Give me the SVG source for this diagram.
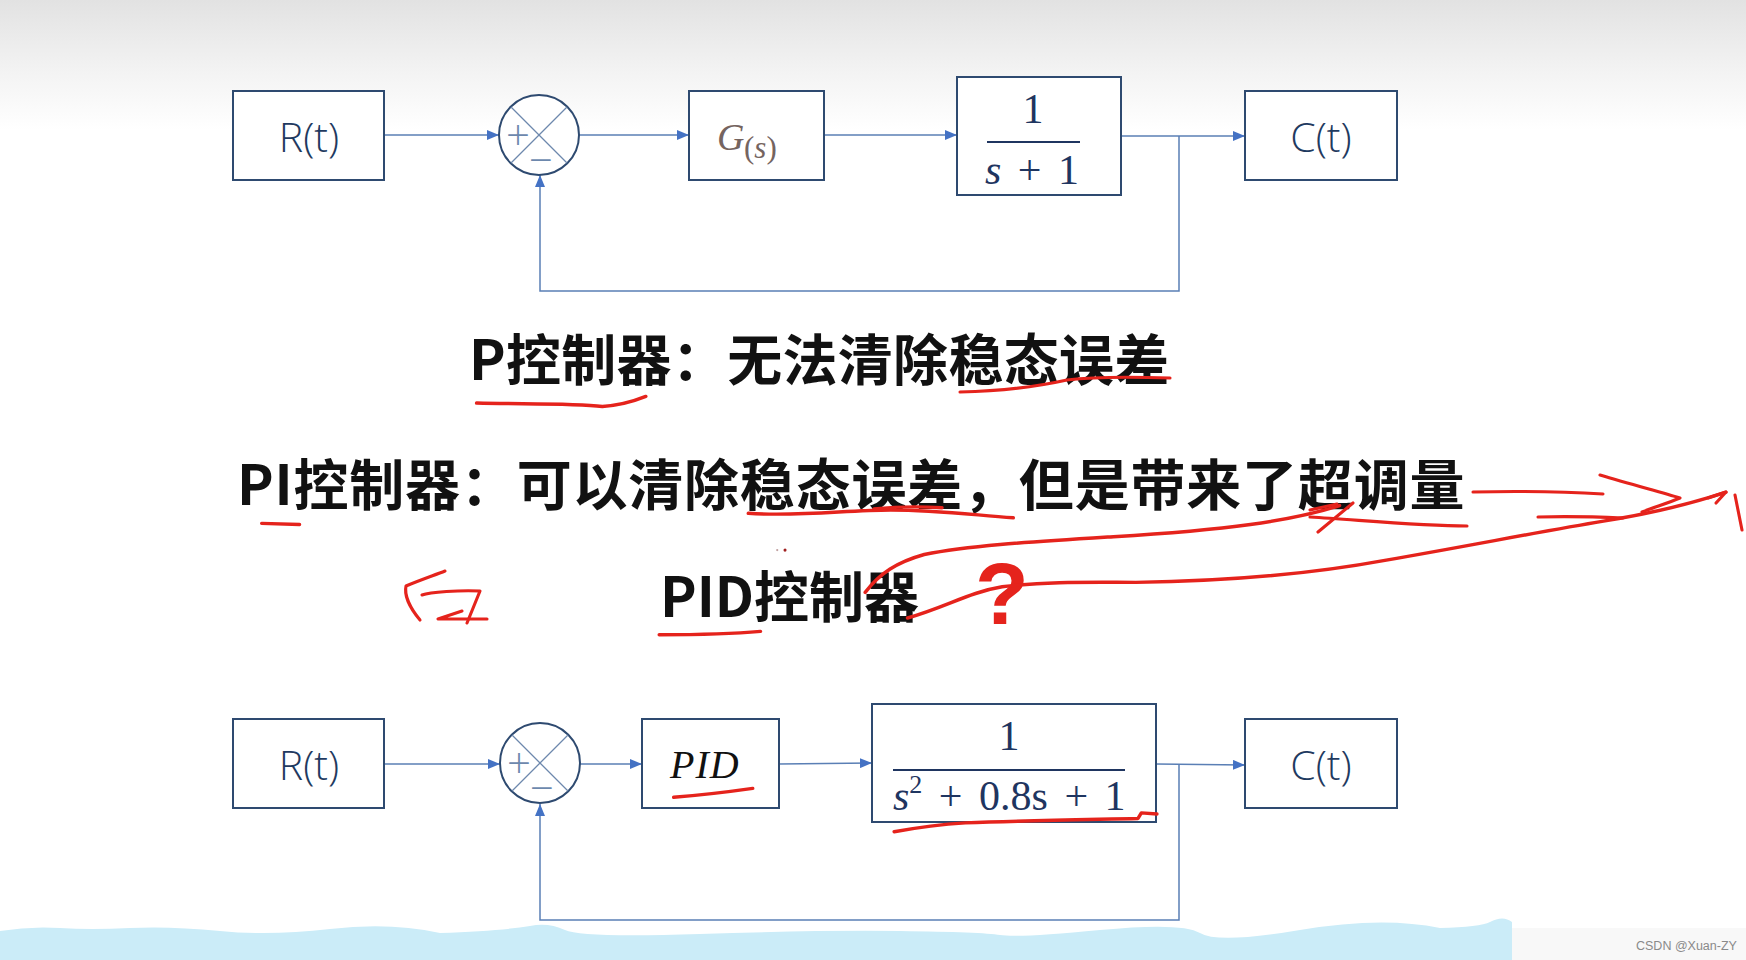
<svg xmlns="http://www.w3.org/2000/svg" width="1746" height="960" viewBox="0 0 1746 960">
<defs>
<linearGradient id="topg" x1="0" y1="0" x2="0" y2="1">
<stop offset="0" stop-color="#e2e2e2"/>
<stop offset="0.55" stop-color="#f3f3f3"/>
<stop offset="1" stop-color="#ffffff"/>
</linearGradient>
<marker id="arr" viewBox="0 0 12 10" refX="12" refY="5" markerWidth="12" markerHeight="10" markerUnits="userSpaceOnUse" orient="auto">
<path d="M0,0 L12,5 L0,10 Z" fill="#4472c4"/>
</marker>
<style>
.box{fill:#ffffff;stroke:#2e4a70;stroke-width:2}
.sum{fill:#ffffff;stroke:#2e4a70;stroke-width:2}
.x{stroke:#6d88ad;stroke-width:1.3}
.sign{font-family:"Open Sans","Liberation Sans",sans-serif;font-weight:300;font-size:42px;fill:#6d88ad;text-anchor:middle}
.con{fill:none;stroke:#5a7fb5;stroke-width:1.5}
.lbl{font-family:"Open Sans","Liberation Sans",sans-serif;font-weight:300;font-size:41px;fill:#1f3a60;text-anchor:middle}
.math{font-family:"Liberation Serif","DejaVu Serif",serif;font-size:42px;fill:#1f3560}
.mid{text-anchor:middle}
.bar{stroke:#1f3560;stroke-width:2}
.cn{font-family:"Noto Sans CJK SC","Noto Sans",sans-serif;font-weight:700;font-size:55px;fill:#111111}
.red{fill:none;stroke:#e5231c;stroke-width:3.1;stroke-linecap:round;stroke-linejoin:round}
</style>
</defs>
<rect x="0" y="0" width="1746" height="960" fill="#ffffff"/>
<rect x="0" y="0" width="1746" height="130" fill="url(#topg)"/>
<rect x="1512" y="928" width="234" height="32" fill="#f8f8f8"/>
<path d="M0,931 Q30,926 60,928 T130,928 T220,931 T330,929 T440,933 Q500,931 530,926 Q548,922 565,930 T700,934 T900,931 T1000,935 T1100,930 T1200,933 T1300,930 T1440,928 Q1480,927 1490,922 Q1503,915 1512,922 L1512,960 L0,960 Z" fill="#cbecf8"/>
<text x="1636" y="950" font-family="Liberation Sans, Arial, sans-serif" font-size="12.5" fill="#8a8a8a">CSDN @Xuan-ZY</text>

<g id="connectors">
<line class="con" x1="384" y1="135" x2="499" y2="135" marker-end="url(#arr)"/>
<line class="con" x1="579" y1="135" x2="689" y2="135" marker-end="url(#arr)"/>
<line class="con" x1="824" y1="135" x2="957" y2="135" marker-end="url(#arr)"/>
<line class="con" x1="1121" y1="136" x2="1245" y2="136" marker-end="url(#arr)"/>
<polyline class="con" points="1179,136 1179,291 540,291 540,175" marker-end="url(#arr)"/>
<line class="con" x1="384" y1="764" x2="500" y2="764" marker-end="url(#arr)"/>
<line class="con" x1="580" y1="764" x2="642" y2="764" marker-end="url(#arr)"/>
<line class="con" x1="779" y1="764" x2="872" y2="763" marker-end="url(#arr)"/>
<line class="con" x1="1156" y1="764" x2="1245" y2="765" marker-end="url(#arr)"/>
<polyline class="con" points="1179,764 1179,920 540,920 540,804" marker-end="url(#arr)"/>
</g>

<g id="R1"><rect class="box" x="233" y="91" width="151" height="89"/><text class="lbl" x="309" y="152">R(t)</text></g>
<g id="S1"><circle class="sum" cx="539" cy="135" r="40"/><line class="x" x1="511" y1="107" x2="567" y2="163"/><line class="x" x1="567" y1="107" x2="511" y2="163"/><text class="sign" x="518" y="150">+</text><text class="sign" x="541" y="175">−</text></g>
<g id="G"><rect class="box" x="689" y="91" width="135" height="89"/><text x="717" y="150" font-family="Liberation Serif, DejaVu Serif, serif" font-style="italic" font-size="38" fill="#75645f">G</text><text x="744" y="158" font-family="Liberation Serif, DejaVu Serif, serif" font-size="31" fill="#75645f">(<tspan font-style="italic">s</tspan>)</text></g>
<g id="F1"><rect class="box" x="957" y="77" width="164" height="118"/><text class="math mid" x="1033" y="123">1</text><line class="bar" x1="987" y1="142" x2="1080" y2="142"/><text class="math mid" x="1032" y="184" word-spacing="6"><tspan font-style="italic">s</tspan> + 1</text></g>
<g id="C1"><rect class="box" x="1245" y="91" width="152" height="89"/><text class="lbl" x="1321" y="152">C(t)</text></g>

<g id="R2"><rect class="box" x="233" y="719" width="151" height="89"/><text class="lbl" x="309" y="780">R(t)</text></g>
<g id="S2"><circle class="sum" cx="540" cy="763" r="40"/><line class="x" x1="512" y1="735" x2="568" y2="791"/><line class="x" x1="568" y1="735" x2="512" y2="791"/><text class="sign" x="519" y="778">+</text><text class="sign" x="542" y="803">−</text></g>
<g id="PID"><rect class="box" x="642" y="719" width="137" height="89"/><text x="670" y="778" font-family="Liberation Serif, DejaVu Serif, serif" font-style="italic" font-size="40" fill="#111111" letter-spacing="1">PID</text></g>
<g id="F2"><rect class="box" x="872" y="704" width="284" height="118"/><text class="math mid" x="1009" y="750">1</text><line class="bar" x1="893" y1="770" x2="1125" y2="770"/><text class="math" x="893" y="810" word-spacing="6"><tspan font-style="italic">s</tspan><tspan font-size="26" dy="-17">2</tspan><tspan dy="17"> + 0.8s + 1</tspan></text></g>
<g id="C2"><rect class="box" x="1245" y="719" width="152" height="89"/><text class="lbl" x="1321" y="780">C(t)</text></g>

<g id="texts">
<text class="cn" x="469" y="380" letter-spacing="0.3">P控制器：无法清除稳态误差</text>
<text class="cn" x="237" y="505" letter-spacing="0.8">PI控制器：可以清除稳态误差，但是带来了超调量</text>
<text class="cn" x="660" y="617">PID控制器</text>
<text x="1002" y="624" text-anchor="middle" font-family="Liberation Sans, Arial, sans-serif" font-weight="700" font-size="88" fill="#e5231c">?</text>
</g>

<g id="annotations">
<g transform="scale(1.11352)">
<path class="red" d="M428,362 C470,363 515,362 541,365 C558,364 570,360 580,356"/>
<path class="red" d="M235,470 L269,471"/>
<path class="red" d="M672,461 C720,464 760,458 800,458 C840,458 870,462 910,465"/>
<path class="red" d="M785,457 C805,455 830,455 846,456"/>
<path class="red" d="M777,532 C790,515 805,505 830,498 C870,490 920,487 1000,482 C1100,476 1160,468 1203,454"/>
<path class="red" d="M815,555 C850,545 870,532 900,527 C940,522 980,523 1020,523 C1100,522 1180,515 1245,503 C1320,490 1380,478 1440,468 C1490,460 1520,452 1550,442"/>
<path class="red" d="M592,570 C620,570 650,570 683,567"/>
<path class="red" d="M605,716 C630,714 655,711 676,708"/>
<path class="red" d="M803,747 C830,742 850,740 867,739 C920,737 980,736 1022,735 L1025,730 L1039,731"/>
<circle cx="705" cy="494" r="1.4" fill="#a02020"/>
<circle cx="698" cy="494" r="1" fill="#c0a0a0"/>
</g>
<path class="red" d="M960,392 C1000,391 1040,386 1067,380 C1100,376 1140,377 1170,378"/>
<path class="red" d="M1310,510 L1337,504 M1318,532 L1353,503"/>
<path class="red" d="M1310,517 C1360,520 1420,526 1467,526"/>
<path class="red" d="M1473,492 C1520,491 1570,492 1603,494"/>
<path class="red" d="M1600,475 C1630,484 1660,492 1680,498 C1668,503 1655,507 1642,512"/>
<path class="red" d="M1538,517 C1570,516 1600,517 1623,518"/>
<path class="red" d="M1708,498 L1726,492 L1716,503"/>
<path class="red" d="M1735,495 L1742,530"/>
<path class="red" d="M445,571 C435,575 420,580 406,586 C404,595 410,608 420,620"/>
<path class="red" d="M422,595 C430,592 460,590 480,591 L467,623"/>
<path class="red" d="M462,611 L438,619 L487,619"/>
</g>
</svg>
